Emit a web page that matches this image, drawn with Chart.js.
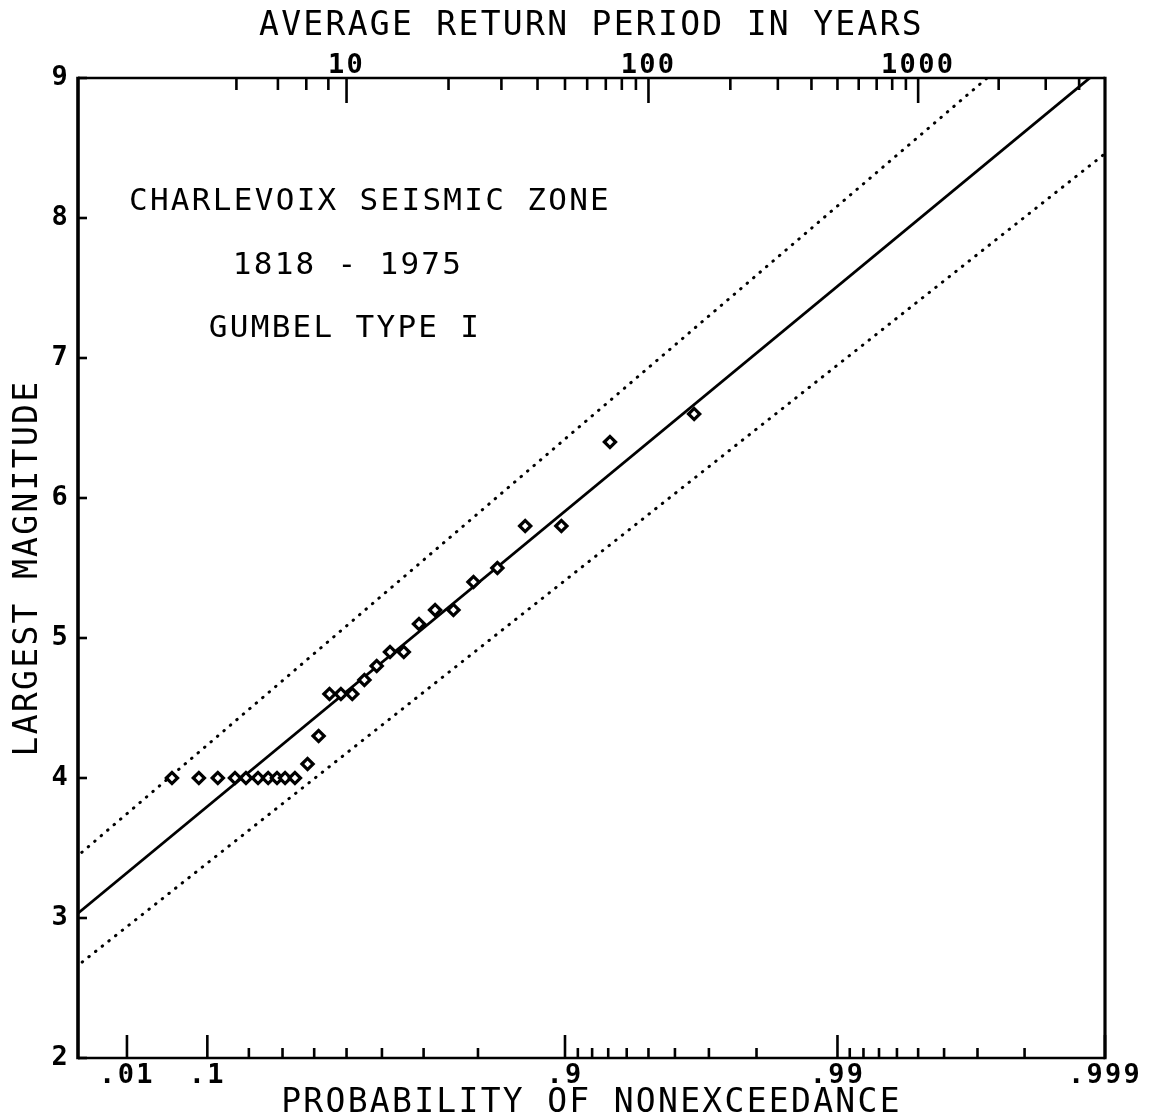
<!DOCTYPE html>
<html>
<head>
<meta charset="utf-8">
<script src="https://cdn.jsdelivr.net/npm/chart.js@4.4.1/dist/chart.umd.min.js"></script>
<style>
  html, body { margin: 0; padding: 0; background: #fff; }
  #wrap { width: 1162px; height: 1120px; }
</style>
</head>
<body>
<div id="wrap"><canvas id="chartGumbel"></canvas></div>
<script>
// largest magnitude per 5-year interval, with its plotting position (prob. of nonexceedance)
const probabilities = [.044, .084, .122, .163, .192, .226, .256, .283, .308, .339,
                       .379, .414, .448, .483, .517, .552, .586, .621, .655, .690,
                       .724, .759, .793, .828, .862, .897, .931, .966]
const magnitudes = [4.0, 4.0, 4.0, 4.0, 4.0, 4.0, 4.0, 4.0, 4.0, 4.0,
                    4.1, 4.3, 4.6, 4.6, 4.6, 4.7, 4.8, 4.9, 4.9, 5.1,
                    5.2, 5.2, 5.4, 5.5, 5.8, 5.8, 6.4, 6.6]

// fitted Gumbel line and confidence limits, given at both ends
const lineProbs = [.0005, .999]
const fitMagnitude = [2.98, 9.09]
const upperLimit = [3.39, 9.72]
const lowerLimit = [2.61, 8.46]

// axes
const probRange = [.00089, .999]
const probTicks = [.01, .1, .9, .99, .999]
const probLabels = ['.01', '.1', '.9', '.99', '.999']
const probMinor = [.2, .3, .4, .5, .6, .7, .8, .91, .92, .93, .94, .95, .96, .97, .98,
                   .991, .992, .993, .994, .995, .996, .997, .998]
const periodTicks = [10, 100, 1000]
const periodMinor = [6, 7, 8, 9, 20, 30, 40, 50, 60, 70, 80, 90,
                     200, 300, 400, 500, 600, 700, 800, 900, 2000, 3000, 4000]
const magTicks = [2, 3, 4, 5, 6, 7, 8, 9]
const intervalYears = 5

const notes = ['CHARLEVOIX SEISMIC ZONE', '1818 - 1975', 'GUMBEL TYPE I']

const gumbel = p => -Math.log(-Math.log(p))
const periodToProb = t => 1 - intervalYears / t

const FONT = '"DejaVu Sans Mono", "Liberation Mono", monospace'
const tickFont = { family: FONT, size: 27, weight: 'bold' }
const titleFont = { family: FONT, size: 33, weight: 'normal' }

const xMin = gumbel(probRange[0])
const xMax = gumbel(probRange[1])

const toPoints = (probs, vals) => probs.map((p, i) => ({ x: gumbel(p), y: vals[i] }))

// ticks point inward, frame drawn on top
const framePlugin = {
    id: 'frame',
    beforeDraw(chart) {
        chart.ctx.letterSpacing = '2.3px'
    },
    afterDraw(chart) {
        const { ctx, chartArea: a, scales } = chart
        ctx.save()
        ctx.strokeStyle = '#000'
        ctx.lineCap = 'butt'

        ctx.lineWidth = 2.6
        const vTicks = (scale, vals, yEdge, len) => {
            vals.forEach(v => {
                const x = scale.getPixelForValue(v)
                ctx.beginPath()
                ctx.moveTo(x, yEdge)
                ctx.lineTo(x, yEdge + len)
                ctx.stroke()
            })
        }
        vTicks(scales.x, probTicks.map(gumbel), a.bottom, -23)
        vTicks(scales.x, probMinor.map(gumbel), a.bottom, -10)
        vTicks(scales.x, periodTicks.map(t => gumbel(periodToProb(t))), a.top, 25)
        vTicks(scales.x, periodMinor.map(t => gumbel(periodToProb(t))), a.top, 12)

        magTicks.forEach(m => {
            const y = scales.y.getPixelForValue(m)
            ctx.beginPath()
            ctx.moveTo(a.left, y)
            ctx.lineTo(a.left + 9, y)
            ctx.stroke()
        })

        // frame
        ctx.lineWidth = 2.6
        ctx.beginPath()
        ctx.moveTo(a.left, a.top)
        ctx.lineTo(a.right, a.top)
        ctx.moveTo(a.left, a.bottom)
        ctx.lineTo(a.right, a.bottom)
        ctx.stroke()
        ctx.lineWidth = 3.2
        ctx.beginPath()
        ctx.moveTo(a.right, a.top - 1.3)
        ctx.lineTo(a.right, a.bottom + 1.3)
        ctx.stroke()
        ctx.lineWidth = 3.6
        ctx.beginPath()
        ctx.moveTo(a.left, a.top - 1.3)
        ctx.lineTo(a.left, a.bottom + 1.3)
        ctx.stroke()

        // caption inside the plot
        ctx.fillStyle = '#000'
        ctx.font = 'normal 31px ' + FONT
        ctx.textAlign = 'center'
        ctx.textBaseline = 'alphabetic'
        ctx.letterSpacing = '2.3px'
        const noteX = [370, 348, 345]
        const noteY = [8.06, 7.6, 7.15]
        notes.forEach((t, i) => {
            ctx.fillText(t, noteX[i], scales.y.getPixelForValue(noteY[i]))
        })
        ctx.restore()
        ctx.letterSpacing = '0px'
    }
}

const canvas = document.getElementById('chartGumbel')
const context = canvas.getContext('2d')

const chartGumbel = new Chart(context, {
    type: 'scatter',
    data: {
        datasets: [
            {
                label: 'Observed',
                data: toPoints(probabilities, magnitudes),
                pointStyle: 'rectRot',
                pointRadius: 5.6,
                pointBorderWidth: 3.2,
                borderColor: '#000',
                backgroundColor: '#fff'
            },
            {
                label: 'Gumbel fit',
                data: toPoints(lineProbs, fitMagnitude),
                showLine: true,
                pointRadius: 0,
                borderWidth: 2.8,
                borderColor: '#000'
            },
            {
                label: 'Upper limit',
                data: toPoints(lineProbs, upperLimit),
                showLine: true,
                pointRadius: 0,
                borderWidth: 3,
                borderColor: '#000',
                borderDash: [0.5, 8],
                borderCapStyle: 'round'
            },
            {
                label: 'Lower limit',
                data: toPoints(lineProbs, lowerLimit),
                showLine: true,
                pointRadius: 0,
                borderWidth: 3,
                borderColor: '#000',
                borderDash: [0.5, 8],
                borderCapStyle: 'round'
            }
        ]
    },
    options: {
        responsive: true,
        maintainAspectRatio: false,
        animation: false,
        layout: { padding: { left: 0, right: 57, top: 0, bottom: 0 } },
        plugins: {
            legend: { display: false },
            tooltip: { enabled: false }
        },
        scales: {
            x: {
                type: 'linear',
                position: 'bottom',
                min: xMin,
                max: xMax,
                afterBuildTicks: s => { s.ticks = probTicks.map(p => ({ value: gumbel(p) })) },
                afterFit: s => { s.height = 62; s.paddingLeft = 0; s.paddingRight = 0 },
                ticks: {
                    autoSkip: false,
                    maxRotation: 0,
                    color: '#000',
                    font: tickFont,
                    padding: 2,
                    callback: (v, i) => probLabels[i]
                },
                grid: { display: false, drawTicks: false },
                border: { display: false },
                title: {
                    display: true,
                    text: 'PROBABILITY OF NONEXCEEDANCE',
                    color: '#000',
                    font: titleFont,
                    padding: { top: 0, bottom: -3 }
                }
            },
            xTop: {
                type: 'linear',
                position: 'top',
                min: xMin,
                max: xMax,
                afterBuildTicks: s => { s.ticks = periodTicks.map(t => ({ value: gumbel(periodToProb(t)) })) },
                afterFit: s => { s.height = 78; s.paddingLeft = 0; s.paddingRight = 0 },
                ticks: {
                    autoSkip: false,
                    maxRotation: 0,
                    color: '#000',
                    font: tickFont,
                    padding: -4,
                    callback: (v, i) => String(periodTicks[i])
                },
                grid: { display: false, drawTicks: false },
                border: { display: false },
                title: {
                    display: true,
                    text: 'AVERAGE RETURN PERIOD IN YEARS',
                    color: '#000',
                    font: titleFont,
                    padding: { top: 7, bottom: 0 }
                }
            },
            y: {
                type: 'linear',
                min: 2,
                max: 9,
                afterBuildTicks: s => { s.ticks = magTicks.map(m => ({ value: m })) },
                afterFit: s => { s.width = 78; s.paddingTop = 0; s.paddingBottom = 0 },
                ticks: {
                    color: '#000',
                    font: tickFont,
                    padding: 8
                },
                grid: { display: false, drawTicks: false },
                border: { display: false },
                title: {
                    display: true,
                    text: 'LARGEST MAGNITUDE',
                    color: '#000',
                    font: titleFont,
                    padding: { top: 9, bottom: 0 }
                }
            }
        }
    },
    plugins: [framePlugin]
})
</script>
</body>
</html>
